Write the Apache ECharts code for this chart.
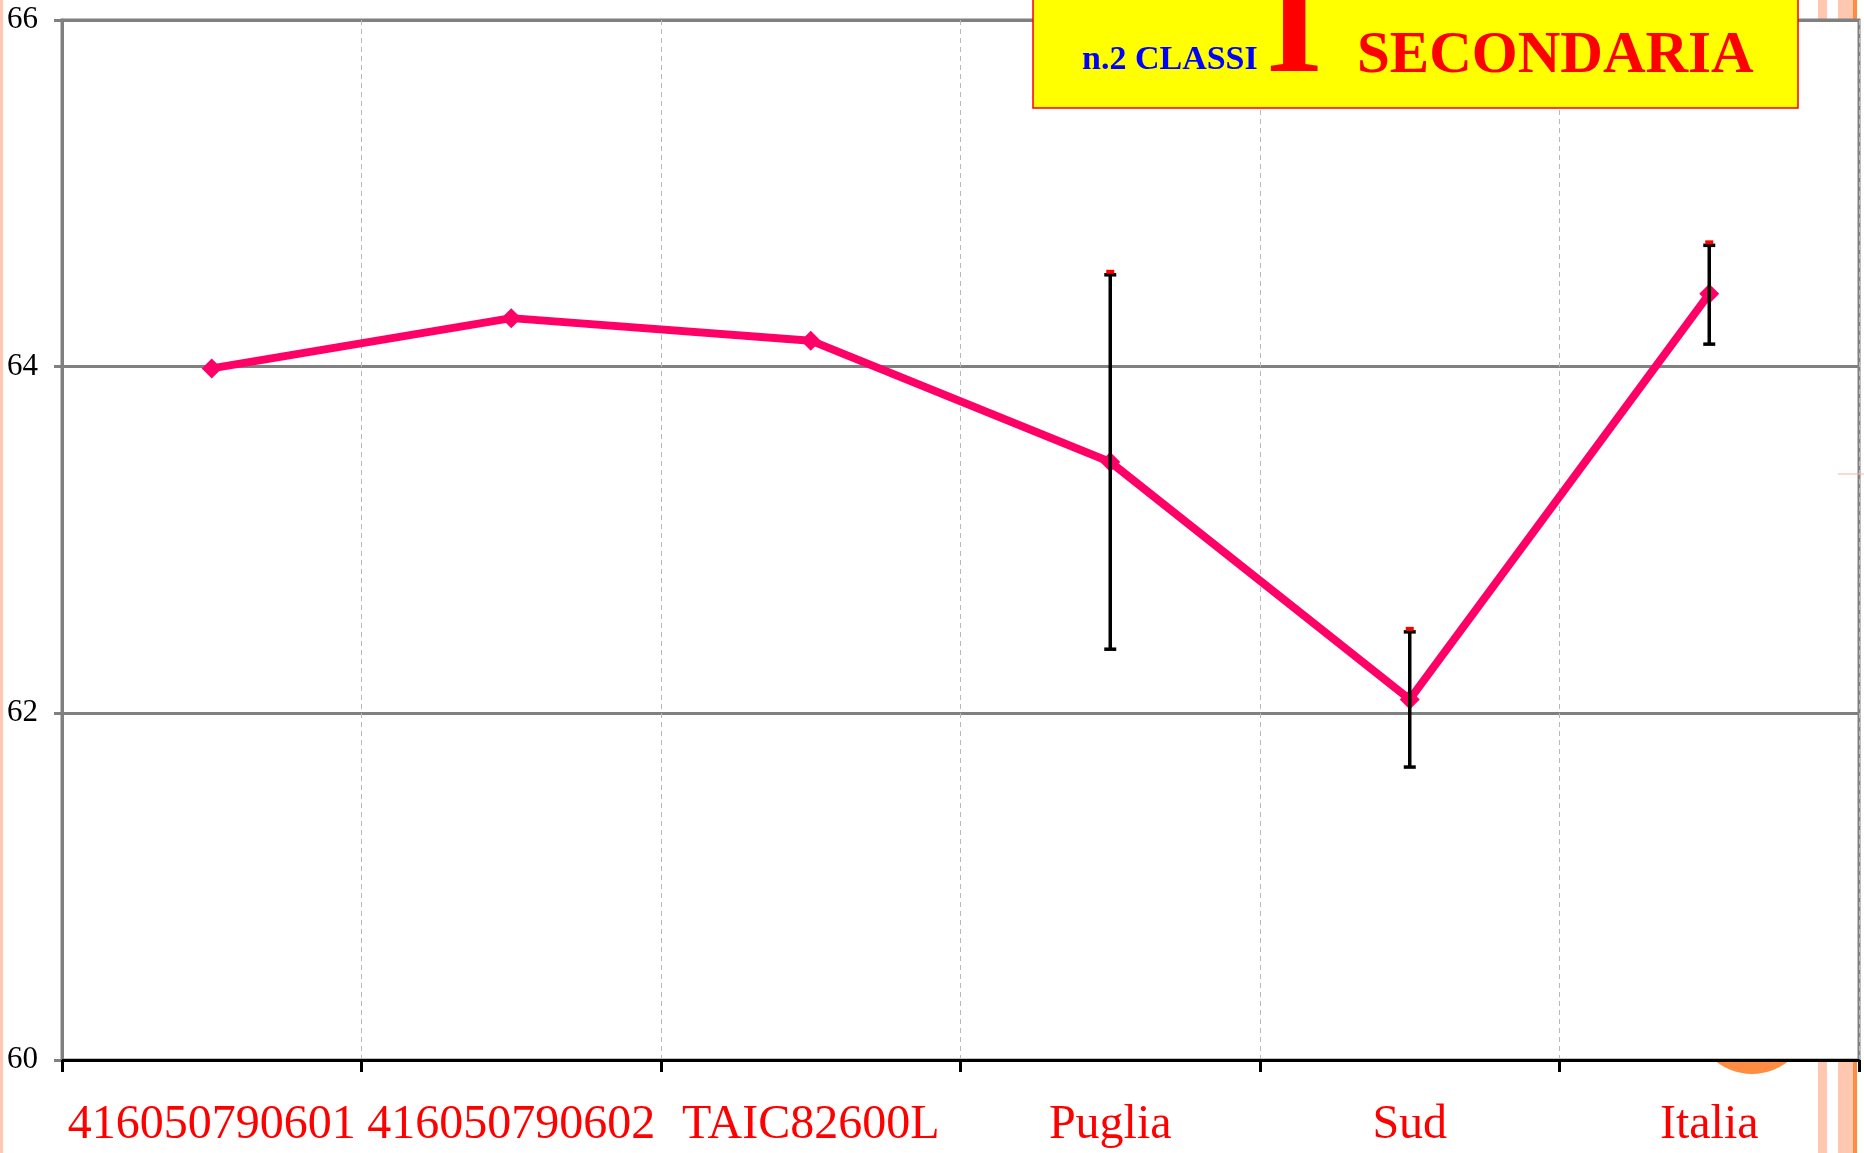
<!DOCTYPE html>
<html>
<head>
<meta charset="utf-8">
<script src="https://cdn.jsdelivr.net/npm/echarts@6/dist/echarts.min.js"></script>
<style>
  html, body { margin: 0; padding: 0; background: #fff; }
  #chart { width: 1864px; height: 1153px; }
</style>
</head>
<body>
<div id="chart"></div>
<script>
// categorie e valori
const categories = ['416050790601', '416050790602', 'TAIC82600L', 'Puglia', 'Sud', 'Italia'];
const values = [63.99, 64.28, 64.15, 63.45, 62.08, 64.42];
// intervalli (barre d'errore) solo per Puglia, Sud, Italia
const errLow = [null, null, null, 62.37, 61.69, 64.13];
const errHigh = [null, null, null, 64.53, 62.47, 64.70];
const yTicks = [60, 62, 64, 66];

const errData = [];
categories.forEach((c, i) => {
  if (errLow[i] != null) errData.push([i, errLow[i], errHigh[i]]);
});

const chart = echarts.init(document.getElementById('chart'));

const option = {
  backgroundColor: '#fff',
  animation: false,
  grid: {
    left: 62, right: 5, top: 20, bottom: 93,
    show: true,
    backgroundColor: '#fff',
    borderColor: '#808080',
    borderWidth: 3
  },
  xAxis: {
    type: 'category',
    data: categories,
    boundaryGap: true,
    axisLine: { lineStyle: { color: '#000', width: 3 } },
    axisTick: { show: true, length: 12, lineStyle: { color: '#000', width: 3 } },
    axisLabel: {
      color: '#ff0000',
      fontFamily: 'Liberation Serif',
      fontSize: 48,
      margin: 41,
      interval: 0
    },
    splitLine: { show: true, lineStyle: { color: '#b8b8b8', width: 1, type: [5, 4] } }
  },
  yAxis: {
    type: 'value',
    min: yTicks[0],
    max: yTicks[yTicks.length - 1],
    interval: 2,
    axisLine: { show: true, lineStyle: { color: '#808080', width: 3 } },
    axisTick: { show: true, length: 8, lineStyle: { color: '#808080', width: 3 } },
    axisLabel: {
      color: '#000',
      fontFamily: 'Liberation Serif',
      fontSize: 31,
      margin: 24
    },
    splitLine: { show: true, lineStyle: { color: '#808080', width: 3 } }
  },
  graphic: [
    // strisce decorative dello sfondo della slide
    { type: 'rect', z: -100, shape: { x: 0, y: 0, width: 3, height: 1153 }, style: { fill: '#ffc6b0' } },
    { type: 'rect', z: -100, shape: { x: 1818, y: 0, width: 9, height: 20 }, style: { fill: '#ffc6b0' } },
    { type: 'rect', z: -100, shape: { x: 1838, y: 0, width: 15, height: 20 }, style: { fill: '#ffc6b0' } },
    { type: 'rect', z: -100, shape: { x: 1853, y: 0, width: 4, height: 20 }, style: { fill: '#ff8c40' } },
    { type: 'rect', z: -100, shape: { x: 1818, y: 1062, width: 9, height: 91 }, style: { fill: '#ffc6b0' } },
    { type: 'rect', z: -100, shape: { x: 1838, y: 1062, width: 15, height: 91 }, style: { fill: '#ffc6b0' } },
    { type: 'rect', z: -100, shape: { x: 1853, y: 1062, width: 4, height: 91 }, style: { fill: '#ff8c40' } },
    { type: 'circle', z: -100, shape: { cx: 1752, cy: 1016, r: 58 }, style: { fill: '#ff8c40' } },
    { type: 'line', z: 50, shape: { x1: 1838, y1: 474, x2: 1864, y2: 474 }, style: { stroke: '#ffb09a', lineWidth: 1 } },
    // riquadro del titolo
    {
      type: 'rect', z: 100,
      shape: { x: 1033, y: -5, width: 765, height: 113 },
      style: { fill: '#ffff00', stroke: '#ff0000', lineWidth: 1.5 }
    },
    {
      type: 'text', z: 101, x: 1082, y: 60,
      style: { text: 'n.2 CLASSI', fill: '#0000ff', font: 'bold 34px "Liberation Serif"', verticalAlign: 'middle' }
    },
    {
      type: 'text', z: 101, x: 1266, y: 34,
      style: { text: 'I', fill: '#ff0000', font: 'bold 145px "Liberation Serif"', verticalAlign: 'middle' }
    },
    {
      type: 'text', z: 101, x: 1357, y: 57,
      style: { text: 'SECONDARIA', fill: '#ff0000', font: 'bold 59px "Liberation Serif"', verticalAlign: 'middle' }
    }
  ],
  series: [
    {
      type: 'line',
      data: values,
      z: 3,
      lineStyle: { color: '#ff0066', width: 8 },
      itemStyle: { color: '#ff0066' },
      symbol: 'diamond',
      symbolSize: 20,
      showSymbol: true
    },
    {
      type: 'custom',
      z: 5,
      data: errData,
      renderItem: function (params, api) {
        const x = api.value(0);
        const lo = api.coord([x, api.value(1)]);
        const hi = api.coord([x, api.value(2)]);
        const cap = 6;
        return {
          type: 'group',
          children: [
            { type: 'line', shape: { x1: hi[0], y1: hi[1], x2: lo[0], y2: lo[1] }, style: { stroke: '#000', lineWidth: 3.5 } },
            { type: 'line', shape: { x1: hi[0] - cap, y1: hi[1], x2: hi[0] + cap, y2: hi[1] }, style: { stroke: '#000', lineWidth: 3.5 } },
            { type: 'line', shape: { x1: lo[0] - cap, y1: lo[1], x2: lo[0] + cap, y2: lo[1] }, style: { stroke: '#000', lineWidth: 3.5 } },
            { type: 'rect', shape: { x: hi[0] - 4, y: hi[1] - 5, width: 8, height: 4 }, style: { fill: '#ff0000' } }
          ]
        };
      }
    }
  ]
};

chart.setOption(option);
</script>
</body>
</html>
